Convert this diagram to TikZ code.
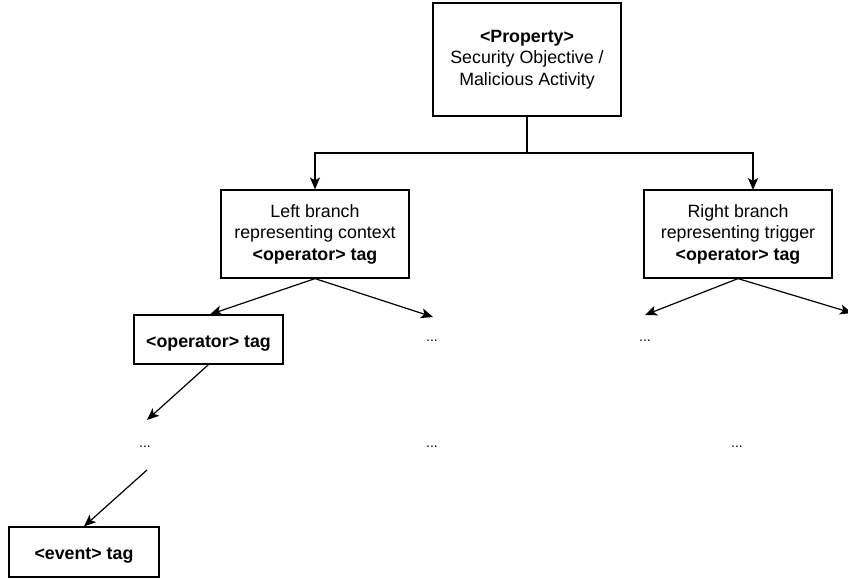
\documentclass[tikz,border=0pt]{standalone}
\usepackage{fontspec}
\setmainfont{Liberation Sans}
\usetikzlibrary{arrows.meta}
\begin{document}
\begin{tikzpicture}[x=1pt,y=-1pt,
  every node/.style={font=\fontsize{17.8}{21.5}\selectfont, inner sep=0pt, align=center},
  tagbox/.style={draw, line width=1.2pt, minimum width=#1,
    execute at begin node={\rule{0pt}{19pt}}},
  conn/.style={line width=1.2pt, -{Stealth[length=12pt,width=10pt,inset=3pt]}},
  ellip/.style={font=\fontsize{14}{16}\selectfont}
]
\useasboundingbox (0,0) rectangle (848,578);

% tree nodes
\node[tagbox=188pt, minimum height=113pt] (prop) at (527,59.5)
  {\textbf{<Property>}\\Security Objective /\\Malicious Activity};
\node[tagbox=188pt, minimum height=88pt] (left) at (315,234)
  {Left branch\\representing context\\\textbf{<operator> tag}};
\node[tagbox=188pt, minimum height=88pt] (right) at (738,234)
  {Right branch\\representing trigger\\\textbf{<operator> tag}};
\node[tagbox=149pt, minimum height=49pt] (op) at (208.5,339.5) {\textbf{<operator> tag}};
\node[tagbox=150pt, minimum height=50pt] (event) at (84,552) {\textbf{<event> tag}};

% elided subtrees
\node[ellip] (d1) at (432,341) {...};
\node[ellip] (d2) at (645,341) {...};
\node[ellip] (d3) at (432,447) {...};
\node[ellip] (d4) at (737,447) {...};
\node[ellip] (d5) at (145,447) {...};

% arrow ends above the elided subtrees
\coordinate (t1) at (433,317);
\coordinate (t2) at (645,315);
\coordinate (t3) at (852,313);
\coordinate (t5) at (147,420);
\coordinate (s5) at (147,470);
\coordinate (rtop) at (753,190);

% connectors
\draw[conn] (prop.south) -- (527,153) -| (left.north);
\draw[conn] (prop.south) -- (527,153) -| (rtop);
\draw[conn] (left.south) -- ([xshift=1.5pt]op.north);
\draw[conn] (left.south) -- (t1);
\draw[conn] (right.south) -- (t2);
\draw[conn] (right.south) -- (t3);
\draw[conn] (op.south) -- (t5);
\draw[conn] (s5) -- (event.north);
\end{tikzpicture}
\end{document}
